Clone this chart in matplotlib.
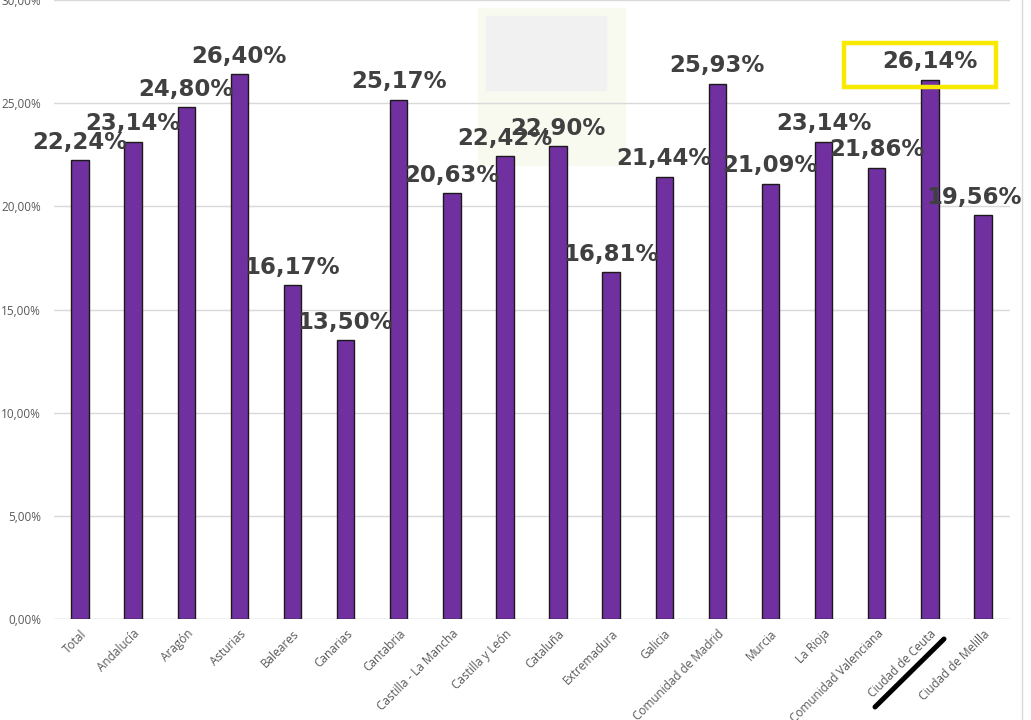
import matplotlib
matplotlib.use('agg')
import matplotlib.pyplot as plt
from matplotlib.patches import Rectangle
from matplotlib.lines import Line2D

# Data
regiones = ['Total', 'Andalucía', 'Aragón', 'Asturias', 'Baleares', 'Canarias',
            'Cantabria', 'Castilla - La Mancha', 'Castilla y León', 'Cataluña',
            'Extremadura', 'Galicia', 'Comunidad de Madrid', 'Murcia', 'La Rioja',
            'Comunidad Valenciana', 'Ciudad de Ceuta', 'Ciudad de Melilla']
porcentajes = [22.24, 23.14, 24.80, 26.40, 16.17, 13.50, 25.17, 20.63, 22.42,
               22.90, 16.81, 21.44, 25.93, 21.09, 23.14, 21.86, 26.14, 19.56]
y_ticks = [0, 5, 10, 15, 20, 25, 30]
destacado = 16  # Ciudad de Ceuta

W, H = 1031, 720
fig = plt.figure(figsize=(W / 100, H / 100), dpi=100)
ax = fig.add_axes([53.5 / W, 1 - 619 / H, (1009.5 - 53.5) / W, 619 / H])

# faint watermark behind the bars
ax.add_patch(Rectangle((478 / W, 1 - 165 / H), 147 / W, 157 / H,
                       transform=fig.transFigure, color='#f8faf0', zorder=0.5))
ax.add_patch(Rectangle((486 / W, 1 - 90 / H), 120 / W, 74 / H,
                       transform=fig.transFigure, color='#f1f1f1', zorder=0.6))

x = list(range(len(regiones)))
ax.bar(x, porcentajes, width=0.33, color='#7030a0', edgecolor='#1a1a1a',
       linewidth=1.0, zorder=3)

for i, v in enumerate(porcentajes):
    dx = -9 if i == len(regiones) - 1 else 0
    ax.annotate(f'{v:.2f}%'.replace('.', ','), (i, v), xytext=(dx, 18),
                textcoords='offset pixels', ha='center', va='center',
                fontsize=16.5, fontweight='bold', color='#404040',
                family='DejaVu Sans', zorder=5, annotation_clip=False)

ax.set_xlim(-0.5, len(regiones) - 0.5)
ax.set_ylim(0, 30)
ax.set_yticks(y_ticks)
ax.set_yticklabels([f'{t:.2f}%'.replace('.', ',') for t in y_ticks],
                   fontsize=8.5, color='#595959', family='Open Sans')
ax.set_xticks(x)
ax.set_xticklabels(regiones, rotation=45, ha='right', rotation_mode='anchor',
                   fontsize=8.5, color='#595959', family='Open Sans')
ax.tick_params(axis='x', length=0, pad=6)
ax.tick_params(axis='y', length=0, pad=9)
ax.yaxis.grid(True, color='#d9d9d9', linewidth=1, zorder=0)
for s in ax.spines.values():
    s.set_visible(False)
ax.axhline(0, color='#d9d9d9', linewidth=1, zorder=2)

# yellow highlight box around Ceuta label
ax.add_patch(Rectangle((destacado - 1.62, 25.8), 2.87, 2.1, fill=False,
                       edgecolor='#f7ea00', linewidth=3.2, zorder=6, clip_on=False))

# black stroke over Ceuta tick label
fig.add_artist(Line2D([875 / W, 944 / W], [1 - 707 / H, 1 - 639 / H],
                      color='black', linewidth=3.6, solid_capstyle='round'))
# chart frame edge on the right
fig.add_artist(Line2D([1022 / W, 1022 / W], [0, 1], color='#d9d9d9', linewidth=1))

fig.savefig('out.png', dpi=100)
